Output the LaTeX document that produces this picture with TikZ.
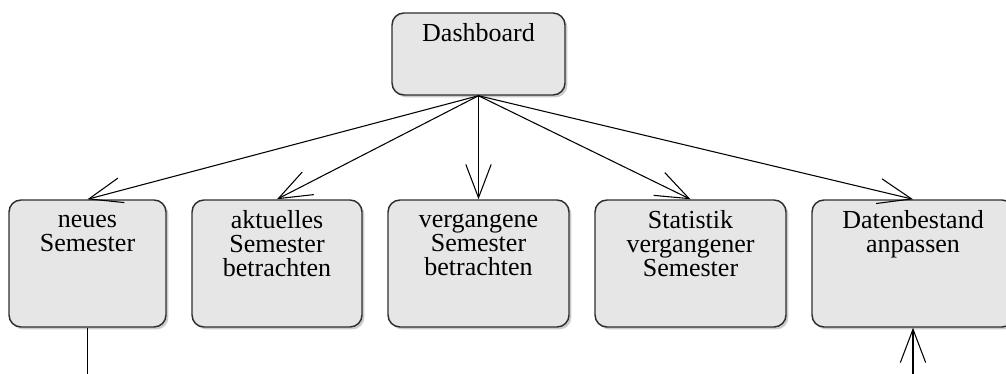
\documentclass[tikz,border=0pt]{standalone}
\usepackage{fontspec}
\setmainfont{Liberation Serif}
\usetikzlibrary{positioning,arrows.meta,shadows}
\definecolor{boxgray}{HTML}{E6E6E6}
\definecolor{boxline}{HTML}{2E2E2E}
\lineskiplimit=-\maxdimen

\begin{document}
\begin{tikzpicture}[x=0.75pt,y=-0.75pt,
  screen/.style={draw=boxline,line width=1.1pt,fill=boxgray,rounded corners=9pt,
    drop shadow={shadow xshift=1.8pt,shadow yshift=-1.8pt,opacity=0.4},
    minimum height=95.25pt,inner sep=0pt},
  caption/.style={align=center,inner sep=0pt,font=\fontsize{19.5}{18}\selectfont},
  nav/.style={-{Straight Barb[length=25pt,width=19pt]},line width=0.8pt}]
  \clip (0,0) rectangle (1006,374);

  % Dashboard
  \node[screen,minimum width=129.75pt,minimum height=61.5pt] (dash) at (478.5,54) {};
  \node[caption,below=8.5pt of dash.north] (dashtxt) {\strut Dashboard};

  % Unterseiten
  \node[screen,minimum width=117.75pt] (neu) at (87.5,263.5) {};
  \node[screen,minimum width=127.5pt] (akt) at (277,263.5) {};
  \node[screen,minimum width=135.75pt] (verg) at (478.5,263.5) {};
  \node[screen,minimum width=143.25pt] (stat) at (690.5,263.5) {};
  \node[screen,minimum width=151.5pt] (daten) at (913,263.5) {};

  \node[caption,below=8.5pt of neu.north] (neutxt) {\strut neues\\Semester};
  \node[caption,below=8.5pt of akt.north] (akttxt) {\strut aktuelles\\Semester\\betrachten};
  \node[caption,below=8.5pt of verg.north] (vergtxt) {\strut vergangene\\Semester\\betrachten};
  \node[caption,below=8.5pt of stat.north] (stattxt) {\strut Statistik\\vergangener\\Semester};
  \node[caption,below=8.5pt of daten.north] (datentxt) {\strut Datenbestand\\anpassen};

  % Navigation
  \foreach \t in {neu,akt,verg,stat,daten} {
    \draw[nav] (dash.south) -- (\t.north);
  }

  % weiter unten
  \coordinate (neuout) at (87.5,390);
  \coordinate (datenin) at (913,390);
  \draw[line width=0.8pt] (neu.south) -- (neuout);
  \draw[nav] (datenin) -- (daten.south);
\end{tikzpicture}
\end{document}
